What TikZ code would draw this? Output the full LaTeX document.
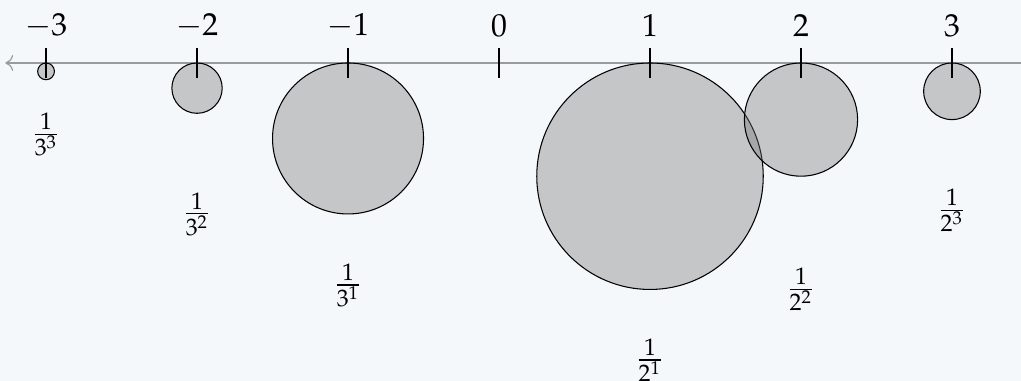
\documentclass[tikz,border=0pt]{standalone}
\usepackage{mathpazo}
\usetikzlibrary{arrows.meta}
\definecolor{bg}{HTML}{F5F8FA}
\definecolor{axisgray}{HTML}{999B9D}
\begin{document}
\begin{tikzpicture}[x=2cm,y=2cm,
  font=\fontsize{12}{14}\selectfont,
  axisline/.style={draw=axisgray, line width=0.45pt},
  tickline/.style={draw=black, line width=0.45pt},
  disc/.style={draw=black, line width=0.4pt, fill=black!55, fill opacity=0.37},
  lab/.style={inner sep=1pt, anchor=center}]
\fill[bg] (-3.305,0.417) rectangle (3.457,-2.106);
\useasboundingbox (-3.305,0.417) rectangle (3.457,-2.106);
\coordinate (L) at (-3.27,0);
\coordinate (R) at (3.457,0);
\draw[axisline, {To[length=3pt,width=6pt]}-] (L) -- (R);
% discs hanging below the axis, radius = 1.5 * value
\foreach \n/\r in {-3/0.05556, -2/0.16667, -1/0.5, 1/0.75, 2/0.375, 3/0.1875}{
  \draw[disc] (\n,-\r) circle[radius=\r];
}
\foreach \n in {-3,...,3}{
  \draw[tickline] (\n,0.1) -- (\n,-0.1);
  \node[lab] (t\n) at (\n,0.245) {$\n$};
}
\node[lab] (fm3) at (-3,-0.474) {$\frac{1}{3^3}$};
\node[lab] (fm2) at (-2,-1.0) {$\frac{1}{3^2}$};
\node[lab] (fm1) at (-1,-1.474) {$\frac{1}{3^1}$};
\node[lab] (fp1) at (1,-1.97) {$\frac{1}{2^1}$};
\node[lab] (fp2) at (2,-1.50) {$\frac{1}{2^2}$};
\node[lab] (fp3) at (3,-0.977) {$\frac{1}{2^3}$};
\end{tikzpicture}
\end{document}
